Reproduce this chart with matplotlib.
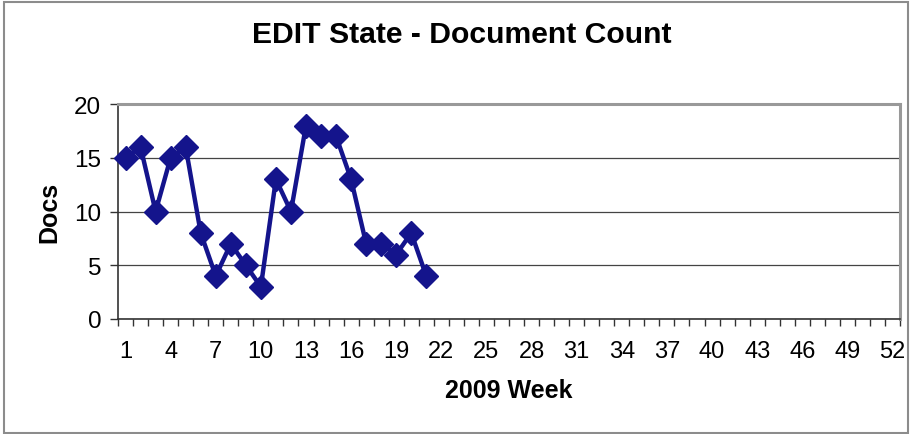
import numpy as np
import matplotlib
matplotlib.use("Agg")
from matplotlib import pyplot as plt
from matplotlib.patches import Rectangle

plt.rcParams['font.family'] = ['Liberation Sans', 'DejaVu Sans']

# weeks with data, and the document count per week
weeks = list(range(1, 22))
docs = [15, 16, 10, 15, 16, 8, 4, 7, 5, 3, 13, 10, 18, 17, 17, 13, 7, 7, 6, 8, 4]
n_weeks = 52
week_labels = list(range(1, n_weeks + 1, 3))
y_ticks = [0, 5, 10, 15, 20]

line_color = "#14148c"

fig = plt.figure(figsize=(9.11, 4.35), dpi=100)
ax = fig.add_axes([118/911, 1 - 320/435, (900-118)/911, (320-105)/435])

ax.plot(weeks, docs, color=line_color, linewidth=3.2, marker="D",
        markersize=12.5, markerfacecolor=line_color, markeredgecolor=line_color,
        clip_on=False, zorder=3)

ax.set_xlim(0.5, n_weeks + 0.5)
ax.set_ylim(0, 20)

# category axis: tick marks between categories, labels every 3rd week
ax.set_xticks(week_labels)
ax.set_xticklabels([str(w) for w in week_labels], fontsize=17)
ax.set_xticks(np.arange(0.5, n_weeks + 1, 1.0), minor=True)
ax.tick_params(axis="x", which="major", length=0, pad=15)
ax.tick_params(axis="x", which="minor", length=5, width=1, color="#333333", direction="out")

ax.set_yticks(y_ticks)
ax.set_yticklabels([str(v) for v in y_ticks], fontsize=17.5)
ax.tick_params(axis="y", length=6, width=1, color="#333333", direction="out", pad=6)

ax.yaxis.grid(True, color="#444444", linewidth=0.9)
ax.set_axisbelow(True)

for side in ("top", "right"):
    ax.spines[side].set_color("#999999")
    ax.spines[side].set_linewidth(2.2)
for side in ("left", "bottom"):
    ax.spines[side].set_color("#333333")
    ax.spines[side].set_linewidth(1.2)

ax.set_xlabel("2009 Week", fontsize=18, fontweight="bold", labelpad=12)
ax.set_ylabel("Docs", fontsize=18, fontweight="bold", labelpad=9)

fig.text(462/911, 1 - 35/435, "EDIT State - Document Count", fontsize=21.7,
         fontweight="bold", ha="center", va="center")

# chart border
fig.patches.append(Rectangle((4/911, 1/435), 904/911, 431/435, transform=fig.transFigure,
                             fill=False, edgecolor="#8c8c8c", linewidth=1.5))

fig.savefig("out.png", dpi=100)
